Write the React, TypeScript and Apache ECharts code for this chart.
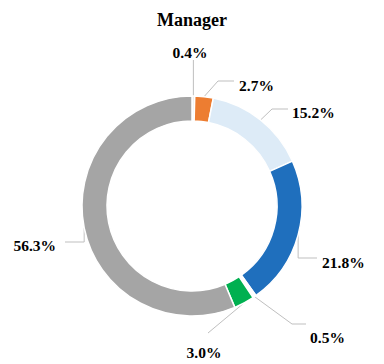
import React, { useEffect, useRef } from "react";
import * as echarts from "echarts";

const categories = ["A", "B", "C", "D", "E", "F", "G"];
const values = [0.4, 2.7, 15.2, 21.8, 0.5, 3.0, 56.3];
const colors = ["#eeeeee", "#ed7d31", "#ddebf7", "#1f6fbd", "#ffffff", "#00b050", "#a5a5a5"];
const titleText = "Manager";

const serif = "'Liberation Serif', 'Times New Roman', serif";

// label placement (layout only): text anchor, alignment, leader-line bend & end
const labelSpots = [
  { x: 190, y: 52, align: "center", bend: null, end: [0, 60] },
  { x: 239, y: 85, align: "left", bend: [218, 81], end: [234, 81] },
  { x: 292, y: 112, align: "left", bend: [272, 109], end: [288, 109] },
  { x: 322, y: 262, align: "left", bend: [0, 258], end: [317, 258] },
  { x: 310, y: 337, align: "left", bend: [292, 324], end: [306, 324] },
  { x: 204, y: 352, align: "center", bend: null, end: [208, 333] },
  { x: 56, y: 245, align: "right", bend: [0, 242], end: [65, 242] },
];

export default function App() {
  const ref = useRef<HTMLDivElement>(null);
  useEffect(() => {
    if (!ref.current) return;
    const chart = echarts.init(ref.current, undefined, { renderer: "svg" });
    chart.setOption({
      animation: false,
      backgroundColor: "#ffffff",
      textStyle: { fontFamily: serif },
      title: {
        text: titleText,
        left: "center",
        top: 6,
        textStyle: {
          fontFamily: serif,
          fontWeight: "bold",
          fontSize: 18,
          color: "#000000",
        },
      },
      series: [
        {
          type: "pie",
          center: [192, 206],
          radius: [85, 110],
          startAngle: 90,
          clockwise: true,
          avoidLabelOverlap: false,
          itemStyle: { borderColor: "#ffffff", borderWidth: 1.5 },
          label: {
            show: true,
            position: "outside",
            fontFamily: serif,
            fontWeight: "bold",
            fontSize: 15.5,
            color: "#000000",
            formatter: (p: any) => `${Number(p.value).toFixed(1)}%`,
          },
          labelLine: {
            show: true,
            length: 15,
            length2: 15,
            lineStyle: { color: "#bfbfbf", width: 1 },
          },
          labelLayout: (params: any) => {
            const s = labelSpots[params.dataIndex];
            const start = params.labelLinePoints ? params.labelLinePoints[0] : [0, 0];
            const endPt = [s.end[0] === 0 ? start[0] : s.end[0], s.end[1]];
            const bendPt = s.bend
              ? [s.bend[0] === 0 ? start[0] : s.bend[0], s.bend[1]]
              : [(start[0] + endPt[0]) / 2, (start[1] + endPt[1]) / 2];
            return {
              x: s.x,
              y: s.y,
              align: s.align,
              verticalAlign: "middle",
              labelLinePoints: [start, bendPt, endPt],
            };
          },
          data: categories.map((c, i) => ({
            name: c,
            value: values[i],
            itemStyle: { color: colors[i] },
          })),
        },
      ],
    });
    return () => chart.dispose();
  }, []);
  return (
    <div
      ref={ref}
      style={{ position: "fixed", left: 0, top: 0, width: 384, height: 364 }}
    />
  );
}
